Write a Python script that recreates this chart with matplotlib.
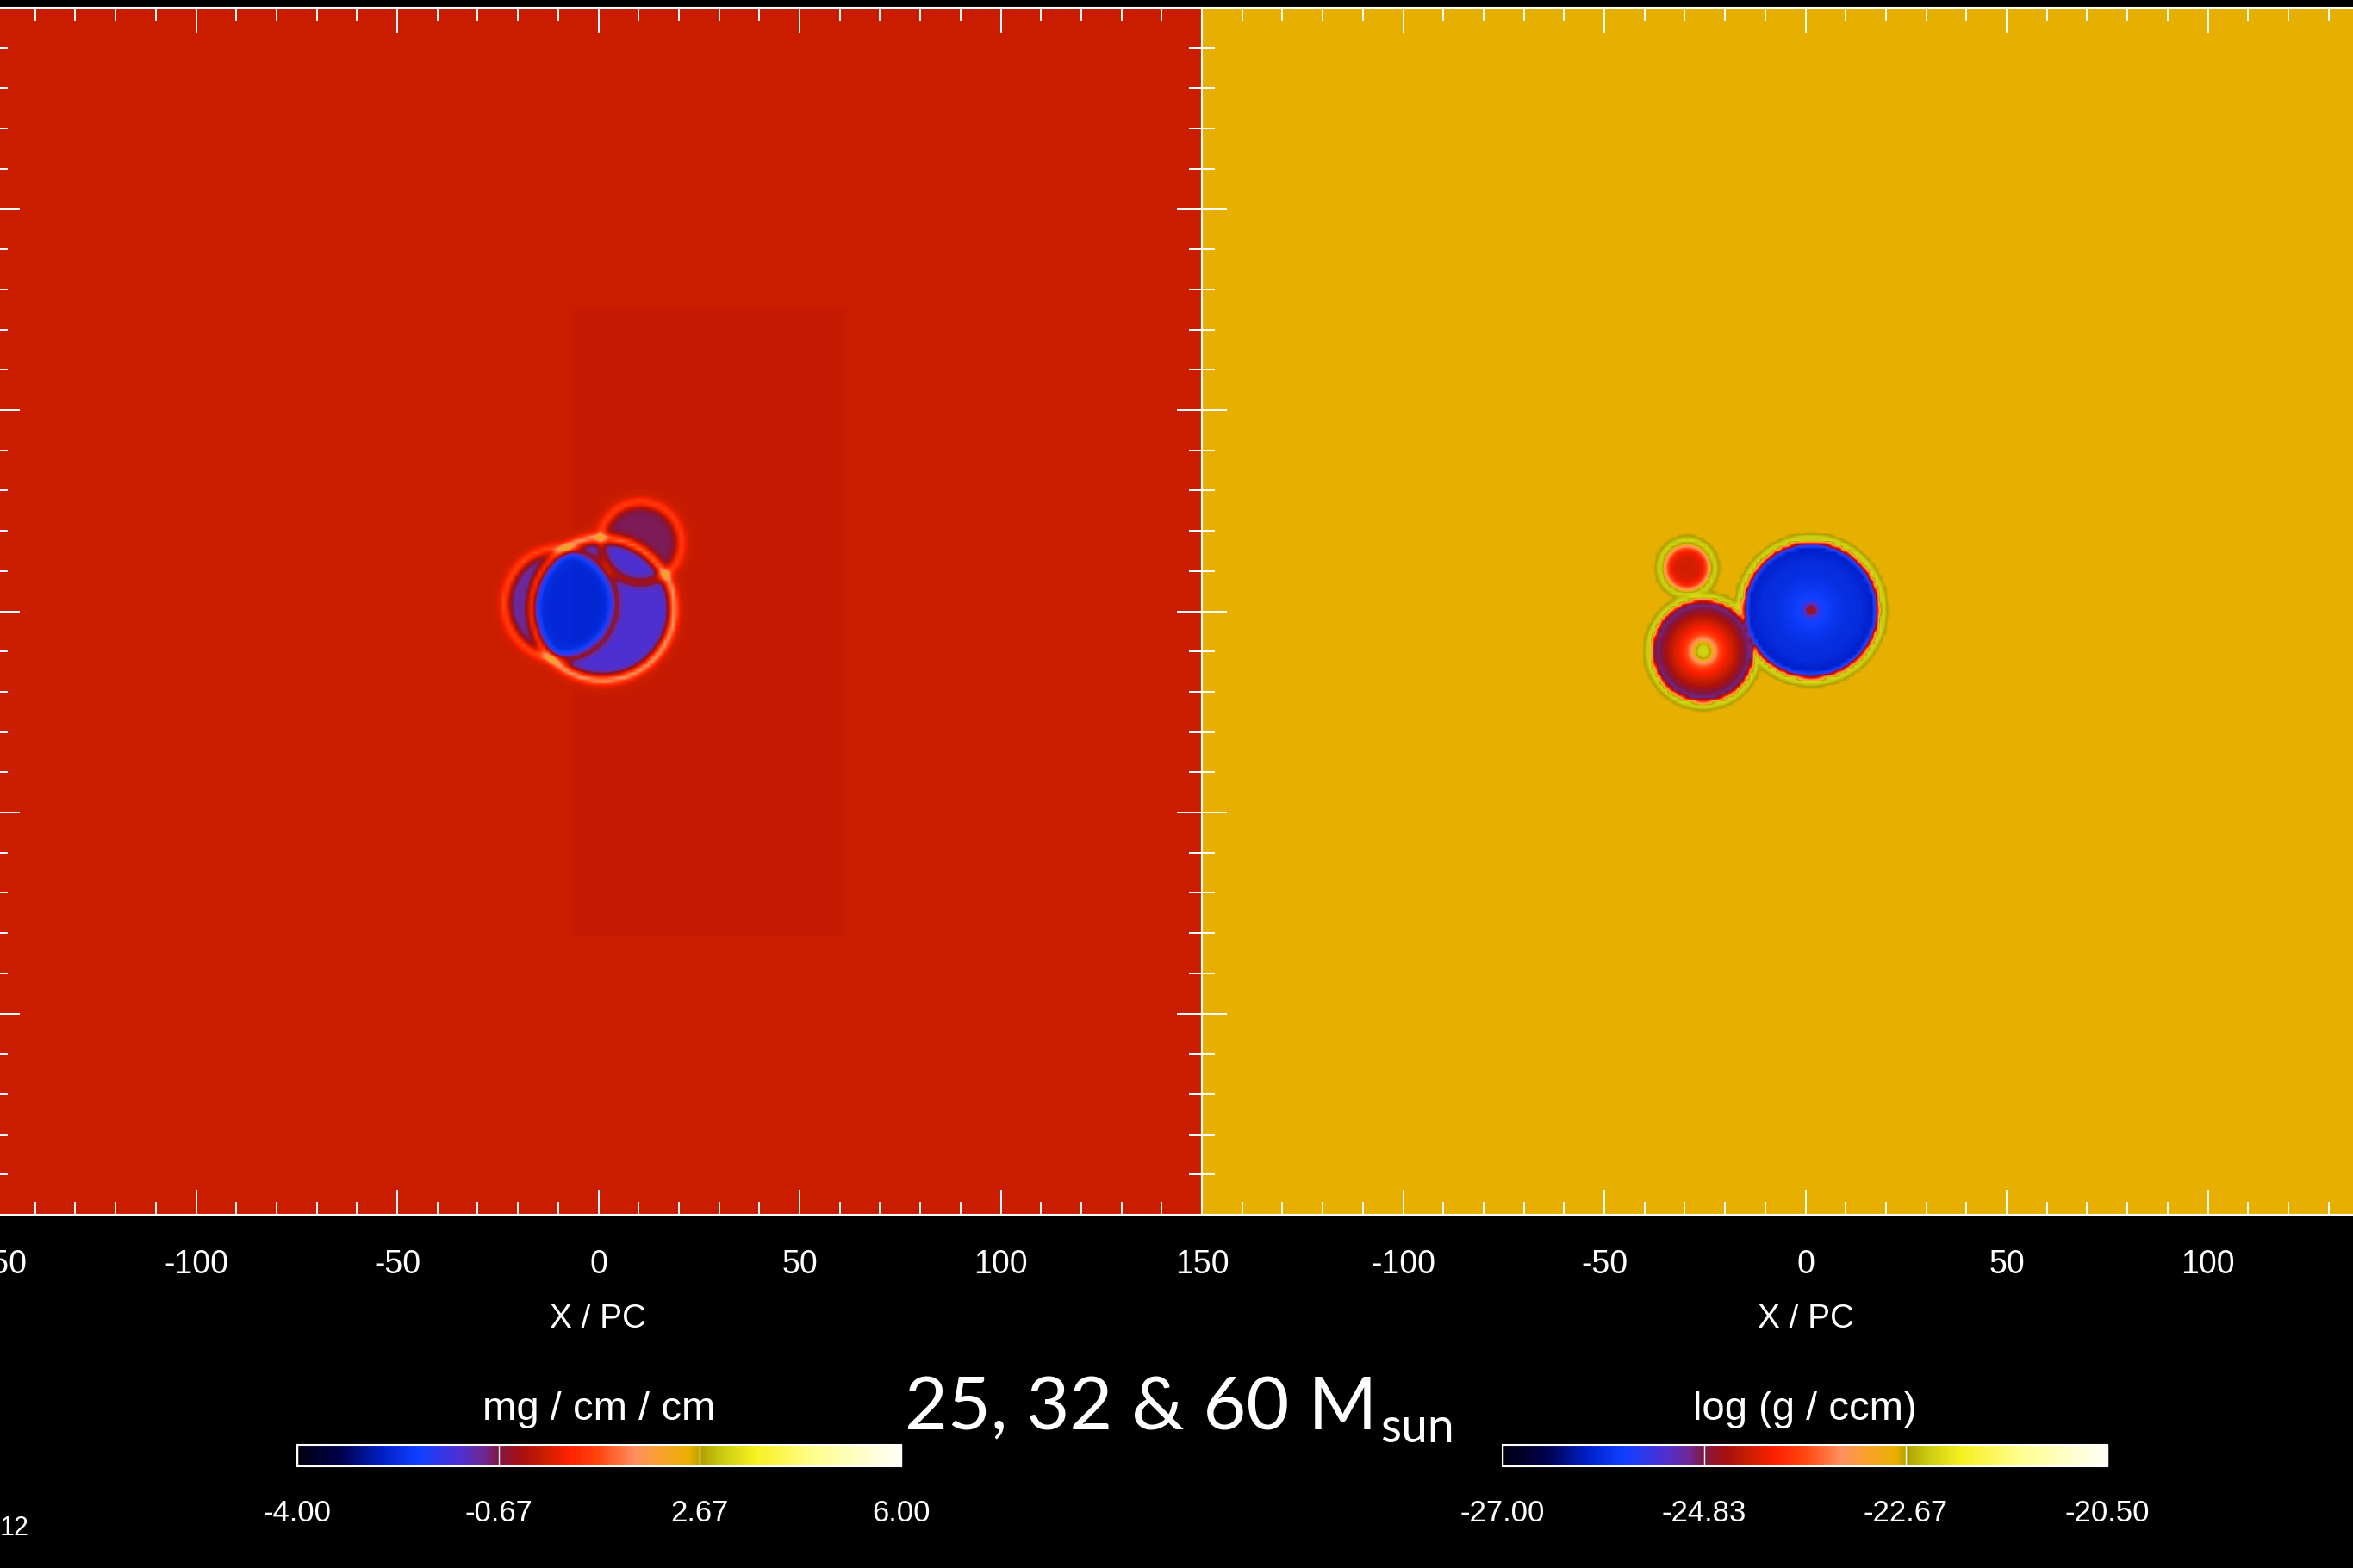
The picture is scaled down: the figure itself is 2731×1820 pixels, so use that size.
import numpy as np
import matplotlib
matplotlib.use('Agg')
import matplotlib.pyplot as plt
from matplotlib.colors import LinearSegmentedColormap
from matplotlib.ticker import MultipleLocator

plt.rcParams['font.family'] = ['Liberation Sans', 'DejaVu Sans']
plt.rcParams['axes.unicode_minus'] = False

# box of the simulation, pc
side = 150.0
ncell = 300

# left panel: column density (mg / cm / cm)
left_vmin, left_vmax = -4.0, 6.0
left_back = 0.1
left_bx = [1.1, -9.4, 10.5]
left_by = [0.6, 1.9, 17.0]
left_br = [17.4, 13.5, 9.8]
left_deficit = [-1.4, -1.1, -0.8]
left_rim = [2.1, 1.2, 1.1]
left_adds = [True, True, False]   # False: bubble sits behind the others
# faint darker patches in the ambient gas
patch_x0 = [-7.0, -101.0]
patch_x1 = [62.0, -7.0]
patch_y0 = [-81.0, 16.0]
patch_y1 = [76.0, 64.0]
patch_dv = [-0.04, -0.03]

# right panel: log density (g / ccm), radial profiles of the three bubbles
right_vmin, right_vmax = -27.0, -20.5
right_back = -22.78
right_bx = [1.4, -25.4, -29.4]
right_by = [0.3, -9.9, 10.8]
right_br = [17.4, 13.0, 6.8]
prof_r = [
    [0, 1.0, 1.8, 2.6, 5.0, 9.0, 13.0, 15.5, 16.3, 16.8, 17.2, 17.8, 18.5, 19.3],
    [0, 1.5, 2.8, 4.0, 5.5, 7.5, 9.5, 11.0, 12.0, 12.5, 12.9, 13.6, 14.3, 15.0],
    [0, 3.0, 4.3, 5.0, 5.6, 6.2, 6.8, 7.5, 8.3],
]
prof_v = [
    [-24.60, -24.66, -25.38, -25.64, -25.77, -25.90, -25.96, -26.09, -25.05, -24.40, -22.45, -22.26, -22.45, -22.78],
    [-22.32, -22.39, -23.23, -23.75, -24.08, -24.34, -24.66, -24.92, -24.99, -24.30, -22.45, -22.26, -22.52, -22.78],
    [-24.34, -24.27, -24.08, -23.62, -23.10, -22.45, -22.30, -22.52, -22.78],
]

cbar_ticks_n = 4
left_unit = 'mg / cm / cm'
right_unit = 'log (g / ccm)'
title_main = '25, 32 & 60 M'
title_sub = 'sun'

# IDL-like colour table
cmap_pos = [0.0, 0.07, 0.14, 0.20, 0.27, 0.31, 0.33, 0.37, 0.41, 0.45, 0.50, 0.56,
            0.60, 0.65, 0.67, 0.70, 0.76, 0.86, 1.0]
cmap_col = ['#000010', '#00004a', '#0020c8', '#1040ff', '#5030d0', '#702890', '#801848',
            '#a81010', '#cc1e00', '#ff2000', '#ff4810', '#ff9060', '#f8a030', '#eab000',
            '#b0a000', '#c8c810', '#f8f020', '#ffff90', '#fffff8']
cmap = LinearSegmentedColormap.from_list('idl', list(zip(cmap_pos, cmap_col)))

c = np.linspace(-side + 0.5, side - 0.5, ncell)
X, Y = np.meshgrid(c, c)

left = np.full(X.shape, left_back)
rims = np.zeros(X.shape)
for x0, y0, r0, d, a, add in zip(left_bx, left_by, left_br, left_deficit, left_rim, left_adds):
    r = np.hypot(X - x0, Y - y0)
    hole = d * np.clip((r0 - r) / 1.2 + 0.5, 0, 1)
    if add:
        left += hole
    else:
        left = np.minimum(left, left_back + hole)
    rims += a * np.exp(-0.5 * ((r - r0) / 0.9) ** 2)
left += rims
for x0, x1, y0, y1, dv in zip(patch_x0, patch_x1, patch_y0, patch_y1, patch_dv):
    m = (X >= x0) & (X <= x1) & (Y >= y0) & (Y <= y1)
    left[m] += dv

# each cell takes the profile of the bubble it lies deepest in
dist = np.array([np.hypot(X - x0, Y - y0) for x0, y0 in zip(right_bx, right_by)])
owner = np.argmin(dist / np.array(right_br)[:, None, None], axis=0)
right = np.full(X.shape, right_back)
for k, (pr, pv) in enumerate(zip(prof_r, prof_v)):
    m = owner == k
    right[m] = np.interp(dist[k][m], pr, pv)

W, H = 2731, 1820
fig = plt.figure(figsize=(W / 100, H / 100), dpi=100, facecolor='black')


def px(x0, y0, x1, y1):
    return [x0 / W, 1 - y1 / H, (x1 - x0) / W, (y1 - y0) / H]


axl = fig.add_axes(px(-6, 9, 1395, 1410))
axr = fig.add_axes(px(1395, 9, 2796, 1410))
caxl = fig.add_axes(px(345, 1677, 1046, 1702))
caxr = fig.add_axes(px(1744, 1677, 2446, 1702))

ticks = [-150, -100, -50, 0, 50, 100, 150]
panels = [
    (axl, caxl, left, left_vmin, left_vmax, left_unit, [str(t) for t in ticks]),
    (axr, caxr, right, right_vmin, right_vmax, right_unit,
     [''] + [str(t) for t in ticks[1:-1]] + ['']),
]
for ax, cax, field, vmin, vmax, unit, labels in panels:
    im = ax.imshow(field, extent=(-side, side, -side, side), origin='lower', cmap=cmap,
                   vmin=vmin, vmax=vmax, interpolation='bilinear', aspect='auto')
    ax.set_xlim(-side, side)
    ax.set_ylim(-side, side)
    ax.set_facecolor('black')
    for s in ax.spines.values():
        s.set_color('white')
        s.set_linewidth(1.5)
    ax.set_xticks(ticks)
    ax.set_xticklabels(labels)
    ax.set_yticks(ticks)
    ax.xaxis.set_minor_locator(MultipleLocator(10))
    ax.yaxis.set_minor_locator(MultipleLocator(10))
    ax.tick_params(which='both', direction='in', top=True, bottom=True, left=True, right=True,
                   color='white', labelcolor='white', labelleft=False)
    ax.tick_params(which='major', length=21, width=1.4, labelsize=27, pad=29)
    ax.tick_params(which='minor', length=11, width=1.4)
    ax.set_xlabel('X / PC', color='white', fontsize=28, labelpad=19)

    cb = fig.colorbar(im, cax=cax, orientation='horizontal',
                      ticks=np.linspace(vmin, vmax, cbar_ticks_n), format='%.2f')
    cb.outline.set_edgecolor('white')
    cb.outline.set_linewidth(1.5)
    cax.tick_params(direction='in', length=18, width=1, colors='white', labelsize=25, pad=27)
    cax.set_title(unit, color='white', fontsize=34, pad=21, y=1.0)

t = fig.text(1050 / W, 1 - 1659 / H, title_main, color='white', fontsize=62,
             family=['Lato', 'DejaVu Sans'], ha='left', va='baseline')
plt.annotate(title_sub, xy=(1, 0), xycoords=t, xytext=(3, 0), textcoords='offset points',
             color='white', fontsize=40, family=['Lato', 'DejaVu Sans'], ha='left', va='baseline')
fig.text(34 / W, 1 - 1782 / H, '12', color='white', fontsize=22, ha='right', va='baseline')

fig.savefig('out.png', dpi=100, facecolor='black')
